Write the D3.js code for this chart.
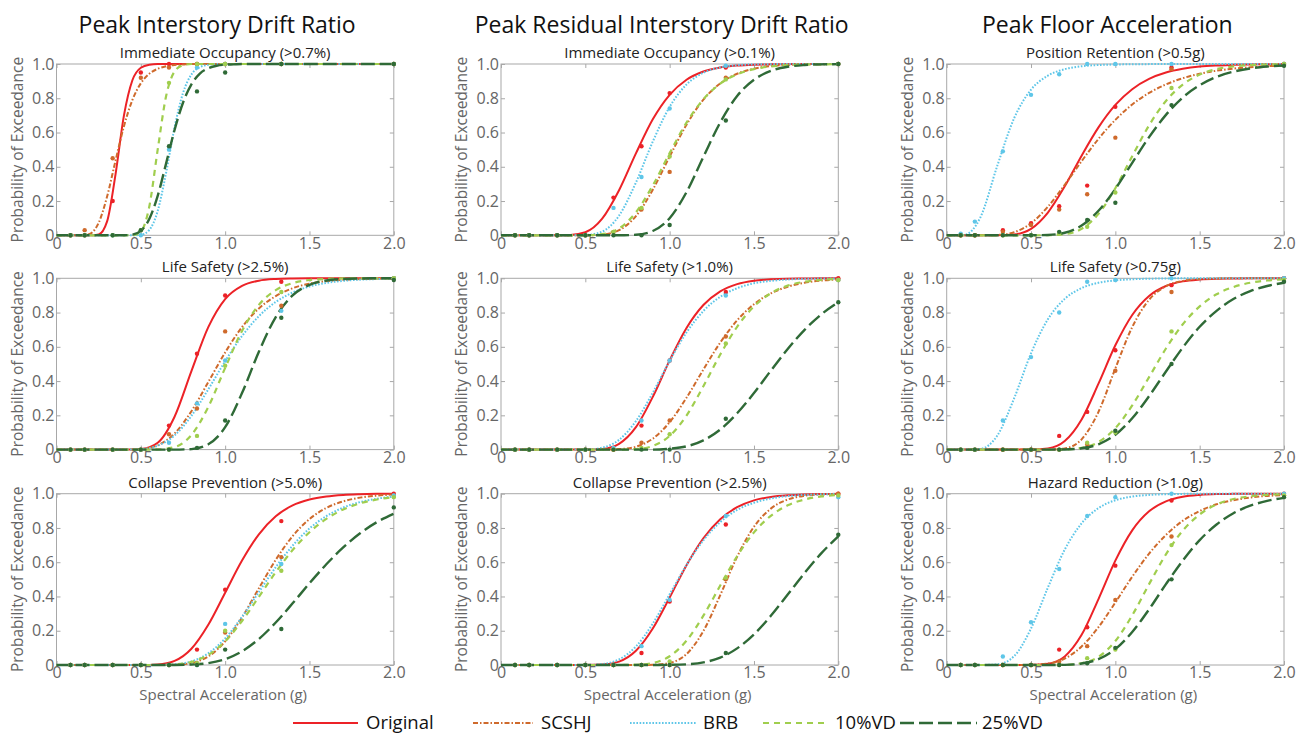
<!DOCTYPE html>
<html>
<head>
<meta charset="utf-8">
<script src="https://cdn.jsdelivr.net/npm/d3@7"></script>
<style>
  html, body { margin: 0; padding: 0; background: #ffffff; }
  svg { display: block; font-family: "Open Sans", "Noto Sans", sans-serif; }
</style>
</head>
<body>
<svg id="chart" width="1306" height="735"></svg>
<script>
// ---------------- DATA ----------------
const seriesNames = ["Original", "SCSHJ", "BRB", "10%VD", "25%VD"];
const columnTitles = ["Peak Interstory Drift Ratio", "Peak Residual Interstory Drift Ratio", "Peak Floor Acceleration"];
const panelTitles = [
  ["Immediate Occupancy (>0.7%)", "Immediate Occupancy (>0.1%)", "Position Retention (>0.5g)"],
  ["Life Safety (>2.5%)", "Life Safety (>1.0%)", "Life Safety (>0.75g)"],
  ["Collapse Prevention (>5.0%)", "Collapse Prevention (>2.5%)", "Hazard Reduction (>1.0g)"]
];
const xTicks = [0, 0.5, 1.0, 1.5, 2.0];
const xTickLabels = ["0", "0.5", "1.0", "1.5", "2.0"];
const yTicks = [0, 0.2, 0.4, 0.6, 0.8, 1.0];
const yTickLabels = ["0", "0.2", "0.4", "0.6", "0.8", "1.0"];
const xAxisTitle = "Spectral Acceleration (g)";
const yAxisTitle = "Probability of Exceedance";

// Spectral acceleration levels of the analysed ground-motion sets (dots)
const imLevels = [0.083, 0.167, 0.333, 0.5, 0.667, 0.833, 1.0, 1.333, 2.0];

const saGrid = [0,0.1,0.2,0.3,0.4,0.5,0.6,0.7,0.8,0.9,1.0,1.1,1.2,1.3,1.4,1.5,1.6,1.7,1.8,1.9,2.0];
const saGridFine = [0,0.1,0.15,0.2,0.25,0.3,0.35,0.4,0.45,0.5,0.55,0.6,0.65,0.7,0.75,0.8,0.85,0.9,0.95,1.0,1.05,1.1,1.5,2.0];

// Fitted fragility curves, order: Original, SCSHJ, BRB, 10%VD, 25%VD
const idrIOCurves = [
  [0,0,0,0,0.005,0.081,0.356,0.70,0.905,0.978,0.996,1,1,1,1,1,1,1,1,1,1,1,1,1],
  [0,0,0.0003,0.010,0.073,0.226,0.436,0.637,0.79,0.887,0.943,0.972,0.987,0.994,0.997,1,1,1,1,1,1,1,1,1],
  [0,0,0,0,0,0,0,0,0,0.003,0.031,0.142,0.366,0.629,0.83,0.939,0.982,0.995,1,1,1,1,1,1],
  [0,0,0,0,0,0,0,0,0.0007,0.021,0.167,0.5,0.813,0.956,0.993,1,1,1,1,1,1,1,1,1],
  [0,0,0,0,0,0,0,0.0003,0.004,0.026,0.095,0.23,0.42,0.615,0.774,0.881,0.944,0.975,0.99,0.996,0.998,1,1,1]
];
const ridrIOCurves = [
  [0,0,0,0,0.001,0.018,0.097,0.263,0.478,0.677,0.82,0.908,0.956,0.98,0.991,0.996,0.998,0.999,1,1,1],
  [0,0,0,0,0,0,0.004,0.03,0.112,0.266,0.46,0.646,0.792,0.887,0.943,0.973,0.988,0.995,0.998,0.999,1],
  [0,0,0,0,0,0.0015,0.022,0.115,0.308,0.547,0.75,0.88,0.949,0.98,0.993,0.9975,0.999,1,1,1,1],
  [0,0,0,0,0,0,0.007,0.04,0.134,0.291,0.48,0.658,0.794,0.885,0.94,0.97,0.986,0.993,0.997,0.998,0.999],
  [0,0,0,0,0,0,0,0,0.003,0.025,0.10,0.252,0.458,0.659,0.813,0.908,0.96,0.984,0.994,0.998,0.999]
];
const pfaPRCurves = [
  [0,0,0,0.0002,0.005,0.038,0.133,0.286,0.465,0.63,0.761,0.853,0.913,0.95,0.972,0.985,0.9915,0.995,0.9975,0.9987,0.9993],
  [0,0,0,0.002,0.018,0.07,0.167,0.295,0.433,0.563,0.674,0.764,0.831,0.881,0.917,0.943,0.961,0.973,0.981,0.987,0.991],
  [0,0.0014,0.105,0.406,0.684,0.85,0.932,0.97,0.987,0.994,0.997,0.9985,0.9993,1,1,1,1,1,1,1,1],
  [0,0,0,0,0,0,0.0005,0.007,0.038,0.125,0.275,0.462,0.642,0.784,0.88,0.938,0.97,0.986,0.994,0.997,0.999],
  [0,0,0,0,0,0,0.002,0.015,0.057,0.143,0.271,0.423,0.573,0.703,0.805,0.876,0.925,0.955,0.974,0.985,0.992]
];
const idrLSCurves = [
  [0,0,0,0,0,0.003,0.04,0.192,0.458,0.715,0.879,0.956,0.986,0.996,0.999,1,1,1,1,1,1],
  [0,0,0,0,0,0.003,0.025,0.094,0.224,0.394,0.567,0.715,0.824,0.896,0.942,0.969,0.983,0.991,0.9956,0.9977,0.9989],
  [0,0,0,0,0,0.003,0.023,0.083,0.197,0.352,0.516,0.663,0.779,0.862,0.917,0.952,0.973,0.985,0.992,0.9955,0.9975],
  [0,0,0,0,0,0,0.001,0.015,0.085,0.249,0.477,0.693,0.845,0.931,0.972,0.99,0.9965,0.999,1,1,1],
  [0,0,0,0,0,0,0,0,0.003,0.031,0.131,0.33,0.571,0.774,0.90,0.962,0.987,0.996,0.999,1,1]
];
const ridrLSCurves = [
  [0,0,0,0,0,0,0.004,0.034,0.131,0.308,0.521,0.71,0.844,0.924,0.966,0.986,0.994,0.998,0.999,1,1],
  [0,0,0,0,0,0,0,0.003,0.017,0.064,0.16,0.303,0.467,0.625,0.754,0.849,0.912,0.951,0.974,0.987,0.993],
  [0,0,0,0,0,0,0.011,0.057,0.166,0.332,0.518,0.684,0.809,0.892,0.942,0.971,0.985,0.993,0.9967,0.9985,0.9993],
  [0,0,0,0,0,0,0,0,0.003,0.021,0.08,0.199,0.37,0.555,0.717,0.836,0.913,0.957,0.98,0.991,0.996],
  [0,0,0,0,0,0,0,0,0,0,0.005,0.019,0.054,0.117,0.212,0.33,0.461,0.587,0.699,0.79,0.86]
];
const pfaLSCurves = [
  [0,0,0,0,0,0.0003,0.007,0.05,0.176,0.385,0.609,0.786,0.897,0.955,0.982,0.993,0.9976,0.999,1,1,1],
  [0,0,0,0,0,0,0.0003,0.007,0.06,0.22,0.474,0.715,0.875,0.954,0.985,0.996,0.999,1,1,1,1],
  [0,0,0.004,0.082,0.30,0.562,0.761,0.88,0.943,0.974,0.988,0.9945,0.9975,0.999,1,1,1,1,1,1,1],
  [0,0,0,0,0,0,0,0.001,0.01,0.044,0.125,0.258,0.423,0.59,0.732,0.836,0.907,0.949,0.974,0.987,0.994],
  [0,0,0,0,0,0,0,0.001,0.008,0.031,0.087,0.183,0.312,0.456,0.596,0.717,0.81,0.879,0.925,0.955,0.974]
];
const idrCPCurves = [
  [0,0,0,0,0,0,0.003,0.024,0.095,0.235,0.422,0.61,0.763,0.868,0.932,0.966,0.984,0.993,0.997,0.999,1],
  [0,0,0,0,0,0,0,0.0015,0.012,0.05,0.138,0.278,0.448,0.614,0.752,0.852,0.917,0.955,0.977,0.989,0.995],
  [0,0,0,0,0,0,0,0.004,0.021,0.068,0.155,0.281,0.426,0.571,0.697,0.797,0.869,0.919,0.951,0.971,0.984],
  [0,0,0,0,0,0,0,0.003,0.018,0.059,0.138,0.257,0.398,0.542,0.671,0.775,0.853,0.908,0.944,0.966,0.98],
  [0,0,0,0,0,0,0,0.0004,0.003,0.011,0.034,0.08,0.152,0.248,0.36,0.477,0.588,0.686,0.769,0.834,0.883]
];
const ridrCPCurves = [
  [0,0,0,0,0,0,0.0024,0.02,0.083,0.213,0.394,0.583,0.74,0.851,0.921,0.961,0.981,0.991,0.996,0.998,0.999],
  [0,0,0,0,0,0,0,0,0,0.001,0.012,0.064,0.198,0.408,0.632,0.807,0.913,0.966,0.988,0.996,0.999],
  [0,0,0,0,0,0,0.0055,0.033,0.108,0.242,0.413,0.584,0.728,0.834,0.905,0.947,0.972,0.986,0.993,0.9965,0.998],
  [0,0,0,0,0,0,0,0,0.0016,0.012,0.051,0.142,0.288,0.464,0.635,0.774,0.871,0.932,0.966,0.984,0.993],
  [0,0,0,0,0,0,0,0,0,0,0.0008,0.004,0.015,0.043,0.097,0.179,0.287,0.411,0.537,0.653,0.751]
];
const pfaHRCurves = [
  [0,0,0,0,0,0.0003,0.007,0.05,0.176,0.385,0.609,0.786,0.897,0.955,0.982,0.993,0.9976,0.999,1,1,1],
  [0,0,0,0,0,0.001,0.008,0.038,0.108,0.221,0.365,0.515,0.65,0.759,0.842,0.899,0.938,0.962,0.978,0.987,0.992],
  [0,0,0,0.0036,0.052,0.213,0.452,0.674,0.827,0.916,0.962,0.983,0.993,0.997,0.999,1,1,1,1,1,1],
  [0,0,0,0,0,0,0,0.001,0.01,0.048,0.14,0.29,0.472,0.646,0.785,0.879,0.937,0.969,0.985,0.9935,0.997],
  [0,0,0,0,0,0,0,0.001,0.009,0.034,0.093,0.193,0.325,0.472,0.61,0.729,0.82,0.886,0.93,0.958,0.976]
];

// Observed probabilities at each Sa level (dots), same series order
const idrIODots = [
  [0,0,0.2,0.95,1,1,1,1,1],
  [0,0.03,0.45,0.92,0.98,1,1,1,1],
  [0,0,0,0,0.5,0.98,1,1,1],
  [0,0,0,0.03,0.89,1,1,1,1],
  [0,0,0,0.03,0.52,0.84,0.95,1,1]
];
const ridrIODots = [
  [0,0,0,0,0.22,0.52,0.83,0.98,1],
  [0,0,0,0,0.02,0.15,0.37,0.92,1],
  [0,0,0,0,0.16,0.34,0.74,0.99,1],
  [0,0,0,0,0.02,0.16,0.46,0.91,1],
  [0,0,0,0,0,0,0.06,0.67,1]
];
const pfaPRDots = [
  [0,0,0.03,0.07,0.17,0.29,0.75,0.98,1],
  [0,0,0.02,0.06,0.15,0.24,0.57,0.97,1],
  [0.01,0.08,0.49,0.82,0.94,1,1,1,1],
  [0,0,0,0,0.01,0.05,0.25,0.86,1],
  [0,0,0,0,0.02,0.09,0.19,0.76,0.99]
];
const idrLSDots = [
  [0,0,0,0,0.14,0.56,0.9,0.98,1],
  [0,0,0,0,0.09,0.24,0.69,0.84,1],
  [0,0,0,0,0.04,0.27,0.52,0.81,1],
  [0,0,0,0,0,0.08,0.49,0.92,1],
  [0,0,0,0,0,0.01,0.17,0.77,0.99]
];
const ridrLSDots = [
  [0,0,0,0,0,0.14,0.52,0.92,1],
  [0,0,0,0,0,0.04,0.17,0.66,0.99],
  [0,0,0,0,0.01,0.17,0.52,0.9,0.99],
  [0,0,0,0,0,0.01,0.09,0.62,0.99],
  [0,0,0,0,0,0,0,0.18,0.86]
];
const pfaLSDots = [
  [0,0,0,0,0.08,0.22,0.58,0.96,1],
  [0,0,0,0,0,0.03,0.46,0.92,1],
  [0,0,0.17,0.54,0.8,0.98,0.99,1,1],
  [0,0,0,0,0,0.04,0.1,0.69,0.99],
  [0,0,0,0,0,0.01,0.11,0.5,0.98]
];
const idrCPDots = [
  [0,0,0,0,0,0.09,0.44,0.84,1],
  [0,0,0,0,0,0.01,0.19,0.63,0.99],
  [0,0,0,0,0,0,0.24,0.59,0.99],
  [0,0,0,0,0,0.01,0.2,0.55,0.98],
  [0,0,0,0,0,0,0.09,0.21,0.92]
];
const ridrCPDots = [
  [0,0,0,0,0,0.07,0.37,0.82,1],
  [0,0,0,0,0,0,0,0.5,1],
  [0,0,0,0,0,0.11,0.38,0.87,0.98],
  [0,0,0,0,0,0,0.02,0.51,0.99],
  [0,0,0,0,0,0,0,0.07,0.76]
];
const pfaHRDots = [
  [0,0,0,0,0.09,0.22,0.58,0.96,1],
  [0,0,0,0,0.02,0.11,0.38,0.75,0.99],
  [0,0,0.05,0.25,0.56,0.87,0.98,1,1],
  [0,0,0,0,0,0.04,0.09,0.7,0.99],
  [0,0,0,0,0,0.01,0.1,0.5,0.98]
];

// ---------------- STYLE / LAYOUT ----------------
const seriesStyle = [
  { color: "#ec2227", dash: null,          width: 2.0 },
  { color: "#cf6a2c", dash: "5,2,1.5,2",   width: 2.0 },
  { color: "#5ec6e8", dash: "1.6,1.6",     width: 2.0 },
  { color: "#a0ce4e", dash: "6,5",         width: 2.2 },
  { color: "#2f6a37", dash: "14,5",        width: 2.4 }
];
const panels = [
  [ { grid: saGridFine, curves: idrIOCurves, dots: idrIODots },
    { grid: saGrid, curves: ridrIOCurves, dots: ridrIODots },
    { grid: saGrid, curves: pfaPRCurves, dots: pfaPRDots } ],
  [ { grid: saGrid, curves: idrLSCurves, dots: idrLSDots },
    { grid: saGrid, curves: ridrLSCurves, dots: ridrLSDots },
    { grid: saGrid, curves: pfaLSCurves, dots: pfaLSDots } ],
  [ { grid: saGrid, curves: idrCPCurves, dots: idrCPDots },
    { grid: saGrid, curves: ridrCPCurves, dots: ridrCPDots },
    { grid: saGrid, curves: pfaHRCurves, dots: pfaHRDots } ]
];
const colLeft = [56.5, 501, 946.7];
const rowTop = [64, 278.3, 493.7];
const plotW = 337.3, plotH = 171.3;
const legendLayout = [
  { x0: 293, x1: 358, tx: 366 },
  { x0: 473, x1: 533, tx: 541 },
  { x0: 630, x1: 697, tx: 703 },
  { x0: 763, x1: 828, tx: 835 },
  { x0: 900, x1: 977, tx: 982 }
];
const axisGray = "#a8a8a8";
const labelGray = "#666666";

// ---------------- DRAW ----------------
const svg = d3.select("#chart");

columnTitles.forEach((t, c) => {
  svg.append("text")
    .attr("x", colLeft[c] + plotW / 2 - 8)
    .attr("y", 33)
    .attr("text-anchor", "middle")
    .attr("font-size", 23)
    .attr("fill", "#111")
    .text(t);
});

panels.forEach((row, r) => {
  row.forEach((p, c) => {
    const left = colLeft[c], top = rowTop[r];
    const x = d3.scaleLinear().domain([0, 2]).range([left, left + plotW]);
    const y = d3.scaleLinear().domain([0, 1]).range([top + plotH, top]);
    const g = svg.append("g");

    // frame
    g.append("rect")
      .attr("x", left).attr("y", top)
      .attr("width", plotW).attr("height", plotH)
      .attr("fill", "none").attr("stroke", axisGray).attr("stroke-width", 1);

    // axes with inward ticks
    const bottom = g.append("g").attr("transform", `translate(0,${top + plotH})`)
      .call(d3.axisBottom(x).tickValues(xTicks).tickFormat((d, i) => xTickLabels[i])
        .tickSizeInner(-4).tickSizeOuter(0).tickPadding(2));
    const topAx = g.append("g").attr("transform", `translate(0,${top})`)
      .call(d3.axisTop(x).tickValues(xTicks).tickFormat("").tickSizeInner(-4).tickSizeOuter(0));
    const leftAx = g.append("g").attr("transform", `translate(${left},0)`)
      .call(d3.axisLeft(y).tickValues(yTicks).tickFormat((d, i) => yTickLabels[i])
        .tickSizeInner(-4).tickSizeOuter(0).tickPadding(2));
    const rightAx = g.append("g").attr("transform", `translate(${left + plotW},0)`)
      .call(d3.axisRight(y).tickValues(yTicks).tickFormat("").tickSizeInner(-4).tickSizeOuter(0));
    [bottom, topAx, leftAx, rightAx].forEach(a => {
      a.select(".domain").remove();
      a.selectAll(".tick line").attr("stroke", axisGray);
      a.selectAll(".tick text").attr("fill", labelGray).attr("font-size", 16)
        .attr("font-family", "'Open Sans', sans-serif");
    });

    // panel subtitle
    g.append("text")
      .attr("x", left + plotW / 2)
      .attr("y", top - 6)
      .attr("text-anchor", "middle")
      .attr("font-size", 15)
      .attr("fill", "#222")
      .text(panelTitles[r][c]);

    // y label
    g.append("text")
      .attr("transform", `translate(${left - 39},${top + plotH / 2}) rotate(-90)`)
      .attr("text-anchor", "middle")
      .attr("dy", "0.35em")
      .attr("font-size", 15.5)
      .attr("fill", labelGray)
      .text(yAxisTitle);

    if (r === 2) {
      g.append("text")
        .attr("x", left + plotW / 2 - 2)
        .attr("y", top + plotH + 35)
        .attr("text-anchor", "middle")
        .attr("font-size", 15)
        .attr("fill", labelGray)
        .text(xAxisTitle);
    }

    const line = d3.line().x(d => x(d[0])).y(d => y(d[1])).curve(d3.curveMonotoneX);
    p.curves.forEach((vals, s) => {
      const st = seriesStyle[s];
      const pts = p.grid.map((gx, i) => [gx, vals[i]]).filter(d => d[1] !== undefined);
      g.append("path")
        .attr("d", line(pts))
        .attr("fill", "none")
        .attr("stroke", st.color)
        .attr("stroke-width", st.width)
        .attr("stroke-dasharray", st.dash);
    });
    p.dots.forEach((vals, s) => {
      g.append("g").selectAll("circle")
        .data(imLevels.map((lv, i) => [lv, vals[i]]))
        .join("circle")
        .attr("cx", d => x(d[0]))
        .attr("cy", d => y(d[1]))
        .attr("r", 2.2)
        .attr("fill", seriesStyle[s].color);
    });
  });
});

// legend
const lg = svg.append("g");
seriesNames.forEach((name, i) => {
  const L = legendLayout[i], st = seriesStyle[i];
  lg.append("line")
    .attr("x1", L.x0).attr("x2", L.x1).attr("y1", 723).attr("y2", 723)
    .attr("stroke", st.color).attr("stroke-width", st.width)
    .attr("stroke-dasharray", st.dash);
  lg.append("text")
    .attr("x", L.tx).attr("y", 723).attr("dy", "0.35em")
    .attr("font-size", 18.5).attr("fill", "#111")
    .text(name);
});
</script>
</body>
</html>
